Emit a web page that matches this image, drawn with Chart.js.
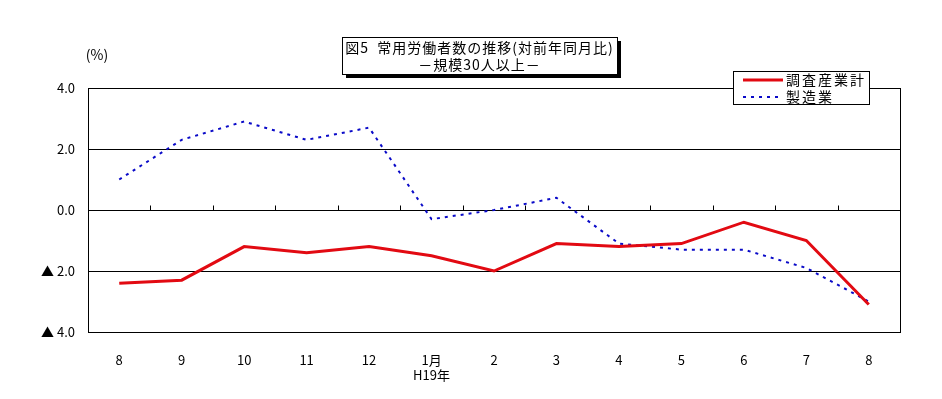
<!DOCTYPE html>
<html>
<head>
<meta charset="utf-8">
<script src="https://cdn.jsdelivr.net/npm/chart.js@4.4.0/dist/chart.umd.min.js"></script>
<style>
    body { margin: 0; background: #fff; }
    #wrap { width: 942px; height: 399px; }
</style>
</head>
<body>
<div id="wrap"><canvas id="myChart" width="942" height="399"></canvas></div>
<script>
// 月（H18年8月〜H19年8月）
const months = ['8', '9', '10', '11', '12', ['1月', 'H19年'], '2', '3', '4', '5', '6', '7', '8'];
// 対前年同月比（%）
const allIndustries = [-2.4, -2.3, -1.2, -1.4, -1.2, -1.5, -2.0, -1.1, -1.2, -1.1, -0.4, -1.0, -3.1];
const manufacturing = [1.0, 2.3, 2.9, 2.3, 2.7, -0.3, 0.0, 0.4, -1.1, -1.3, -1.3, -1.9, -3.0];
const yTicks = [-4, -2, 0, 2, 4];

const titleLines = ['図5  常用労働者数の推移(対前年同月比)', '－規模30人以上－'];
const unitLabel = '(%)';

const FONT = '"Noto Sans CJK JP", "DejaVu Sans", sans-serif';
const RED = '#e20a12';
const BLUE = '#0a0ac8';

const ctx = document.getElementById('myChart').getContext('2d');

// 枠・目盛り・タイトル・凡例
const decorPlugin = {
    id: 'decor',
    afterDatasetsDraw(chart) {
        const c = chart.ctx;
        const a = chart.chartArea;
        const xs = chart.scales.x;
        const ys = chart.scales.y;

        c.save();
        c.strokeStyle = '#000';
        c.lineWidth = 1;
        c.strokeRect(Math.round(a.left) + 0.5, Math.round(a.top) + 0.5,
            Math.round(a.right - a.left), Math.round(a.bottom - a.top));

        // 0線上の目盛り
        const y0 = Math.round(ys.getPixelForValue(0)) + 0.5;
        c.beginPath();
        for (let i = 0; i < months.length - 1; i++) {
            const x = Math.round((xs.getPixelForValue(i) + xs.getPixelForValue(i + 1)) / 2) + 0.5;
            c.moveTo(x, y0);
            c.lineTo(x, y0 - 5);
        }
        c.stroke();
        c.restore();
    },
    afterDraw(chart) {
        const c = chart.ctx;
        c.save();

        // 単位
        c.fillStyle = '#000';
        c.font = '14px ' + FONT;
        c.textAlign = 'center';
        c.textBaseline = 'middle';
        c.fillText(unitLabel, 97, 55);

        // タイトル枠（影付き）
        const tx = 342, ty = 37, tw = 275, th = 37;
        c.fillStyle = '#000';
        c.fillRect(tx + 4, ty + 4, tw, th);
        c.fillStyle = '#fff';
        c.fillRect(tx, ty, tw, th);
        c.strokeStyle = '#000';
        c.lineWidth = 1;
        c.strokeRect(tx + 0.5, ty + 0.5, tw, th);
        c.fillStyle = '#000';
        c.font = '14px ' + FONT;
        c.letterSpacing = '1px';
        c.fillText(titleLines[0], tx + tw / 2, ty + 11);
        c.fillText(titleLines[1], tx + tw / 2, ty + 28);

        // 凡例
        const lx = 733, ly = 71, lw = 136, lh = 33;
        c.fillStyle = '#fff';
        c.fillRect(lx, ly, lw, lh);
        c.strokeRect(lx + 0.5, ly + 0.5, lw, lh);
        chart.data.datasets.forEach((ds, i) => {
            const yy = ly + 9 + i * 17;
            c.beginPath();
            c.strokeStyle = ds.borderColor;
            c.lineWidth = ds.borderWidth;
            c.setLineDash(ds.borderDash || []);
            c.moveTo(lx + 10, yy);
            c.lineTo(lx + 50, yy);
            c.stroke();
            c.setLineDash([]);
            c.fillStyle = '#000';
            c.font = '14px ' + FONT;
            c.letterSpacing = '2px';
            c.textAlign = 'left';
            c.fillText(ds.label, lx + 53, yy);
        });
        c.restore();
    }
};

const config = {
    type: 'line',
    data: {
        labels: months,
        datasets: [
            {
                label: '調査産業計',
                data: allIndustries,
                borderColor: RED,
                borderWidth: 3,
                pointRadius: 0,
                tension: 0,
                fill: false,
            },
            {
                label: '製造業',
                data: manufacturing,
                borderColor: BLUE,
                borderWidth: 2,
                borderDash: [3, 5],
                pointRadius: 0,
                tension: 0,
                fill: false,
            }
        ]
    },
    options: {
        responsive: false,
        animation: false,
        layout: { padding: { left: 0, right: 42, top: 88, bottom: 0 } },
        plugins: {
            legend: { display: false },
            title: { display: false },
            tooltip: { enabled: false }
        },
        scales: {
            x: {
                offset: true,
                grid: { display: false },
                border: { display: false },
                ticks: {
                    color: '#000',
                    font: { size: 13, family: FONT },
                    padding: 12,
                    maxRotation: 0,
                    autoSkip: false
                },
                afterFit: (s) => { s.height = 67; }
            },
            y: {
                min: -4,
                max: 4,
                afterBuildTicks: (s) => { s.ticks = yTicks.map(v => ({ value: v })); },
                grid: { color: '#000', lineWidth: 1, drawTicks: false },
                border: { display: false },
                ticks: {
                    color: '#000',
                    font: { size: 13, family: FONT },
                    padding: 13,
                    callback: (v) => v < 0 ? '▲ ' + Math.abs(v).toFixed(1) : v.toFixed(1)
                },
                afterFit: (s) => { s.width = 88; }
            }
        }
    },
    plugins: [decorPlugin]
};

const chart = new Chart(ctx, config);
</script>
</body>
</html>
